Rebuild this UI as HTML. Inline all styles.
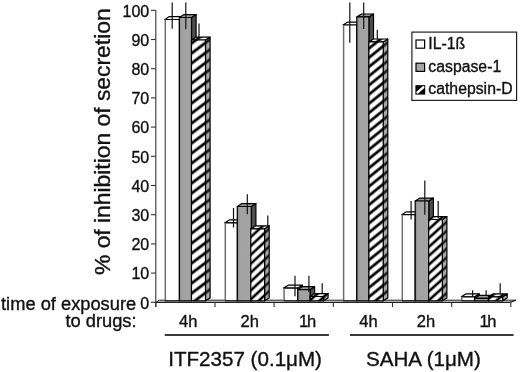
<!DOCTYPE html>
<html><head><meta charset="utf-8"><title>chart</title><style>
html,body{margin:0;padding:0;background:#fff;width:520px;height:372px;overflow:hidden}
svg{display:block}
text{font-family:"Liberation Sans",Arial,sans-serif;fill:#111;stroke:#111;stroke-width:0.35px}
</style></head><body>
<svg width="520" height="372" viewBox="0 0 520 372">
<defs>
<pattern id="hf0" patternUnits="userSpaceOnUse" width="40" height="7.986" patternTransform="translate(191.20,93.60) rotate(-37.0)"><rect width="40" height="7.986" fill="#fff"/><rect y="0" width="40" height="1.398" fill="#000"/><rect y="6.589" width="40" height="1.398" fill="#000"/></pattern>
<pattern id="hs0" patternUnits="userSpaceOnUse" width="40" height="7.986" patternTransform="translate(191.20,93.60) rotate(-37.0)"><rect width="40" height="7.986" fill="#a8a8a8"/><rect y="0" width="40" height="1.398" fill="#1a1a1a"/><rect y="6.589" width="40" height="1.398" fill="#1a1a1a"/></pattern>
<pattern id="ht0" patternUnits="userSpaceOnUse" width="40" height="7.986" patternTransform="translate(191.20,93.60) rotate(-37.0)"><rect width="40" height="7.986" fill="#f4f4f4"/><rect y="0" width="40" height="1.398" fill="#000"/><rect y="6.589" width="40" height="1.398" fill="#000"/></pattern>
<pattern id="hf1" patternUnits="userSpaceOnUse" width="40" height="6.509" patternTransform="translate(250.90,254.70) rotate(-43.0)"><rect width="40" height="6.509" fill="#fff"/><rect y="0" width="40" height="1.280" fill="#000"/><rect y="5.229" width="40" height="1.280" fill="#000"/></pattern>
<pattern id="hs1" patternUnits="userSpaceOnUse" width="40" height="6.509" patternTransform="translate(250.90,254.70) rotate(-43.0)"><rect width="40" height="6.509" fill="#a8a8a8"/><rect y="0" width="40" height="1.280" fill="#1a1a1a"/><rect y="5.229" width="40" height="1.280" fill="#1a1a1a"/></pattern>
<pattern id="ht1" patternUnits="userSpaceOnUse" width="40" height="6.509" patternTransform="translate(250.90,254.70) rotate(-43.0)"><rect width="40" height="6.509" fill="#f4f4f4"/><rect y="0" width="40" height="1.280" fill="#000"/><rect y="5.229" width="40" height="1.280" fill="#000"/></pattern>
<pattern id="hf2" patternUnits="userSpaceOnUse" width="40" height="6.614" patternTransform="translate(310.50,300.00) rotate(-42.0)"><rect width="40" height="6.614" fill="#fff"/><rect y="0" width="40" height="1.301" fill="#000"/><rect y="5.313" width="40" height="1.301" fill="#000"/></pattern>
<pattern id="hs2" patternUnits="userSpaceOnUse" width="40" height="6.614" patternTransform="translate(310.50,300.00) rotate(-42.0)"><rect width="40" height="6.614" fill="#a8a8a8"/><rect y="0" width="40" height="1.301" fill="#1a1a1a"/><rect y="5.313" width="40" height="1.301" fill="#1a1a1a"/></pattern>
<pattern id="ht2" patternUnits="userSpaceOnUse" width="40" height="6.614" patternTransform="translate(310.50,300.00) rotate(-42.0)"><rect width="40" height="6.614" fill="#f4f4f4"/><rect y="0" width="40" height="1.301" fill="#000"/><rect y="5.313" width="40" height="1.301" fill="#000"/></pattern>
<pattern id="hf3" patternUnits="userSpaceOnUse" width="40" height="7.150" patternTransform="translate(368.90,94.50) rotate(-39.0)"><rect width="40" height="7.150" fill="#fff"/><rect y="0" width="40" height="1.360" fill="#000"/><rect y="5.790" width="40" height="1.360" fill="#000"/></pattern>
<pattern id="hs3" patternUnits="userSpaceOnUse" width="40" height="7.150" patternTransform="translate(368.90,94.50) rotate(-39.0)"><rect width="40" height="7.150" fill="#a8a8a8"/><rect y="0" width="40" height="1.360" fill="#1a1a1a"/><rect y="5.790" width="40" height="1.360" fill="#1a1a1a"/></pattern>
<pattern id="ht3" patternUnits="userSpaceOnUse" width="40" height="7.150" patternTransform="translate(368.90,94.50) rotate(-39.0)"><rect width="40" height="7.150" fill="#f4f4f4"/><rect y="0" width="40" height="1.360" fill="#000"/><rect y="5.790" width="40" height="1.360" fill="#000"/></pattern>
<pattern id="hf4" patternUnits="userSpaceOnUse" width="40" height="6.614" patternTransform="translate(428.60,238.20) rotate(-42.0)"><rect width="40" height="6.614" fill="#fff"/><rect y="0" width="40" height="1.301" fill="#000"/><rect y="5.313" width="40" height="1.301" fill="#000"/></pattern>
<pattern id="hs4" patternUnits="userSpaceOnUse" width="40" height="6.614" patternTransform="translate(428.60,238.20) rotate(-42.0)"><rect width="40" height="6.614" fill="#a8a8a8"/><rect y="0" width="40" height="1.301" fill="#1a1a1a"/><rect y="5.313" width="40" height="1.301" fill="#1a1a1a"/></pattern>
<pattern id="ht4" patternUnits="userSpaceOnUse" width="40" height="6.614" patternTransform="translate(428.60,238.20) rotate(-42.0)"><rect width="40" height="6.614" fill="#f4f4f4"/><rect y="0" width="40" height="1.301" fill="#000"/><rect y="5.313" width="40" height="1.301" fill="#000"/></pattern>
<pattern id="hf5" patternUnits="userSpaceOnUse" width="40" height="6.614" patternTransform="translate(488.40,299.00) rotate(-42.0)"><rect width="40" height="6.614" fill="#fff"/><rect y="0" width="40" height="1.301" fill="#000"/><rect y="5.313" width="40" height="1.301" fill="#000"/></pattern>
<pattern id="hs5" patternUnits="userSpaceOnUse" width="40" height="6.614" patternTransform="translate(488.40,299.00) rotate(-42.0)"><rect width="40" height="6.614" fill="#a8a8a8"/><rect y="0" width="40" height="1.301" fill="#1a1a1a"/><rect y="5.313" width="40" height="1.301" fill="#1a1a1a"/></pattern>
<pattern id="ht5" patternUnits="userSpaceOnUse" width="40" height="6.614" patternTransform="translate(488.40,299.00) rotate(-42.0)"><rect width="40" height="6.614" fill="#f4f4f4"/><rect y="0" width="40" height="1.301" fill="#000"/><rect y="5.313" width="40" height="1.301" fill="#000"/></pattern>
<linearGradient id="gg" x1="0" y1="0" x2="1" y2="0"><stop offset="0" stop-color="#8e8e8e"/><stop offset="0.22" stop-color="#a2a2a2"/><stop offset="1" stop-color="#a4a4a4"/></linearGradient>
</defs>
<text transform="translate(109.5,141.7) rotate(-90)" text-anchor="middle" font-size="22.85">% of inhibition of secretion</text>
<text x="149.2" y="308.5" text-anchor="end" font-size="16">0</text>
<text x="149.2" y="279.3" text-anchor="end" font-size="16">10</text>
<text x="149.2" y="250.1" text-anchor="end" font-size="16">20</text>
<text x="149.2" y="220.9" text-anchor="end" font-size="16">30</text>
<text x="149.2" y="191.7" text-anchor="end" font-size="16">40</text>
<text x="149.2" y="162.5" text-anchor="end" font-size="16">50</text>
<text x="149.2" y="133.3" text-anchor="end" font-size="16">60</text>
<text x="149.2" y="104.1" text-anchor="end" font-size="16">70</text>
<text x="149.2" y="74.9" text-anchor="end" font-size="16">80</text>
<text x="149.2" y="45.7" text-anchor="end" font-size="16">90</text>
<text x="149.2" y="16.5" text-anchor="end" font-size="16">100</text>
<g stroke="#333" stroke-width="1.1" fill="none">
<line x1="155.8" y1="10.3" x2="155.8" y2="307.0"/>
<line x1="151" y1="302.3" x2="155.8" y2="302.3"/>
<line x1="151" y1="273.1" x2="155.8" y2="273.1"/>
<line x1="151" y1="243.9" x2="155.8" y2="243.9"/>
<line x1="151" y1="214.7" x2="155.8" y2="214.7"/>
<line x1="151" y1="185.5" x2="155.8" y2="185.5"/>
<line x1="151" y1="156.3" x2="155.8" y2="156.3"/>
<line x1="151" y1="127.1" x2="155.8" y2="127.1"/>
<line x1="151" y1="97.9" x2="155.8" y2="97.9"/>
<line x1="151" y1="68.7" x2="155.8" y2="68.7"/>
<line x1="151" y1="39.5" x2="155.8" y2="39.5"/>
<line x1="151" y1="10.3" x2="155.8" y2="10.3"/>
</g>
<polygon points="155.8,302.3 510.2,302.3 515.9,300.2 159.4,300.2" fill="#dcdcdc" stroke="none"/>
<g stroke="#222" fill="none">
<line x1="159.4" y1="300.2" x2="515.9" y2="300.2" stroke-width="1.0" stroke="#222"/>
<polyline points="155.8,302.3 510.2,302.3 515.9,300.2" stroke-width="1.3"/>
<line x1="155.8" y1="302.3" x2="159.4" y2="300.2" stroke-width="1"/>
<line x1="155.8" y1="302.3" x2="155.8" y2="307.0" stroke-width="1.1" stroke="#333"/>
<line x1="215.0" y1="302.3" x2="215.0" y2="307.0" stroke-width="1.1" stroke="#333"/>
<line x1="274.1" y1="302.3" x2="274.1" y2="307.0" stroke-width="1.1" stroke="#333"/>
<line x1="333.3" y1="302.3" x2="333.3" y2="307.0" stroke-width="1.1" stroke="#333"/>
<line x1="392.5" y1="302.3" x2="392.5" y2="307.0" stroke-width="1.1" stroke="#333"/>
<line x1="451.7" y1="302.3" x2="451.7" y2="307.0" stroke-width="1.1" stroke="#333"/>
<line x1="510.8" y1="302.3" x2="510.8" y2="307.0" stroke-width="1.1" stroke="#333"/>
</g>
<g stroke="#000" stroke-width="1.2" stroke-linejoin="round"><polygon points="179.4,19.5 184.0,16.6 184.0,297.9 179.4,300.8" fill="#d8d8d8"/><polygon points="164.8,19.5 179.4,19.5 184.0,16.6 169.4,16.6" fill="#fff"/><rect x="164.8" y="19.5" width="14.6" height="281.3" fill="#fff" stroke="none"/><polyline points="164.8,19.5 179.4,19.5 179.4,300.8" fill="none"/><line x1="165.3" y1="19.5" x2="165.3" y2="300.8" stroke="#6e6e6e" stroke-width="1.5"/><line x1="164.8" y1="300.8" x2="179.4" y2="300.8"/></g>
<g stroke="#000" stroke-width="1.2" stroke-linejoin="round"><polygon points="191.5,17.5 196.1,14.6 196.1,297.9 191.5,300.8" fill="#4e4e4e"/><polygon points="179.4,17.5 191.5,17.5 196.1,14.6 184.0,14.6" fill="#9a9a9a"/><rect x="179.4" y="17.5" width="12.1" height="283.3" fill="url(#gg)"/></g>
<g stroke="#000" stroke-width="1.2" stroke-linejoin="round"><polygon points="205.5,40.0 210.1,37.1 210.1,297.9 205.5,300.8" fill="url(#hs0)"/><polygon points="191.5,40.0 205.5,40.0 210.1,37.1 196.1,37.1" fill="url(#ht0)"/><rect x="191.5" y="40.0" width="14.0" height="260.8" fill="url(#hf0)"/></g>
<g stroke="#000" stroke-width="1.2" stroke-linejoin="round"><polygon points="237.4,222.8 242.0,219.9 242.0,297.9 237.4,300.8" fill="#d8d8d8"/><polygon points="224.8,222.8 237.4,222.8 242.0,219.9 229.4,219.9" fill="#fff"/><rect x="224.8" y="222.8" width="12.6" height="78.0" fill="#fff" stroke="none"/><polyline points="224.8,222.8 237.4,222.8 237.4,300.8" fill="none"/><line x1="225.3" y1="222.8" x2="225.3" y2="300.8" stroke="#6e6e6e" stroke-width="1.5"/><line x1="224.8" y1="300.8" x2="237.4" y2="300.8"/></g>
<g stroke="#000" stroke-width="1.2" stroke-linejoin="round"><polygon points="251.3,206.5 255.9,203.6 255.9,297.9 251.3,300.8" fill="#4e4e4e"/><polygon points="237.3,206.5 251.3,206.5 255.9,203.6 241.9,203.6" fill="#9a9a9a"/><rect x="237.3" y="206.5" width="14.0" height="94.3" fill="url(#gg)"/></g>
<g stroke="#000" stroke-width="1.2" stroke-linejoin="round"><polygon points="264.6,228.8 269.2,225.9 269.2,297.9 264.6,300.8" fill="url(#hs1)"/><polygon points="250.8,228.8 264.6,228.8 269.2,225.9 255.4,225.9" fill="url(#ht1)"/><rect x="250.8" y="228.8" width="13.8" height="72.0" fill="url(#hf1)"/></g>
<g stroke="#000" stroke-width="1.2" stroke-linejoin="round"><polygon points="297.8,288.1 302.4,285.2 302.4,297.9 297.8,300.8" fill="#d8d8d8"/><polygon points="283.6,288.1 297.8,288.1 302.4,285.2 288.2,285.2" fill="#fff"/><rect x="283.6" y="288.1" width="14.2" height="12.7" fill="#fff" stroke="none"/><polyline points="283.6,288.1 297.8,288.1 297.8,300.8" fill="none"/><line x1="284.1" y1="288.1" x2="284.1" y2="300.8" stroke="#6e6e6e" stroke-width="1.5"/><line x1="283.6" y1="300.8" x2="297.8" y2="300.8"/></g>
<g stroke="#000" stroke-width="1.2" stroke-linejoin="round"><polygon points="310.0,289.6 314.6,286.7 314.6,297.9 310.0,300.8" fill="#4e4e4e"/><polygon points="297.8,289.6 310.0,289.6 314.6,286.7 302.4,286.7" fill="#9a9a9a"/><rect x="297.8" y="289.6" width="12.2" height="11.2" fill="url(#gg)"/></g>
<g stroke="#000" stroke-width="1.2" stroke-linejoin="round"><polygon points="323.5,296.5 328.1,293.6 328.1,297.9 323.5,300.8" fill="url(#hs2)"/><polygon points="310.3,296.5 323.5,296.5 328.1,293.6 314.9,293.6" fill="url(#ht2)"/><rect x="310.3" y="296.5" width="13.2" height="4.3" fill="url(#hf2)"/></g>
<g stroke="#000" stroke-width="1.2" stroke-linejoin="round"><polygon points="356.8,25.0 361.4,22.1 361.4,297.9 356.8,300.8" fill="#d8d8d8"/><polygon points="343.1,25.0 356.8,25.0 361.4,22.1 347.7,22.1" fill="#fff"/><rect x="343.1" y="25.0" width="13.7" height="275.8" fill="#fff" stroke="none"/><polyline points="343.1,25.0 356.8,25.0 356.8,300.8" fill="none"/><line x1="343.6" y1="25.0" x2="343.6" y2="300.8" stroke="#6e6e6e" stroke-width="1.5"/><line x1="343.1" y1="300.8" x2="356.8" y2="300.8"/></g>
<g stroke="#000" stroke-width="1.2" stroke-linejoin="round"><polygon points="368.9,16.9 373.5,14.0 373.5,297.9 368.9,300.8" fill="#4e4e4e"/><polygon points="356.8,16.9 368.9,16.9 373.5,14.0 361.4,14.0" fill="#9a9a9a"/><rect x="356.8" y="16.9" width="12.1" height="283.9" fill="url(#gg)"/></g>
<g stroke="#000" stroke-width="1.2" stroke-linejoin="round"><polygon points="383.2,41.9 387.8,39.0 387.8,297.9 383.2,300.8" fill="url(#hs3)"/><polygon points="368.9,41.9 383.2,41.9 387.8,39.0 373.5,39.0" fill="url(#ht3)"/><rect x="368.9" y="41.9" width="14.3" height="258.9" fill="url(#hf3)"/></g>
<g stroke="#000" stroke-width="1.2" stroke-linejoin="round"><polygon points="415.2,214.7 419.8,211.8 419.8,297.9 415.2,300.8" fill="#d8d8d8"/><polygon points="401.8,214.7 415.2,214.7 419.8,211.8 406.4,211.8" fill="#fff"/><rect x="401.8" y="214.7" width="13.4" height="86.1" fill="#fff" stroke="none"/><polyline points="401.8,214.7 415.2,214.7 415.2,300.8" fill="none"/><line x1="402.3" y1="214.7" x2="402.3" y2="300.8" stroke="#6e6e6e" stroke-width="1.5"/><line x1="401.8" y1="300.8" x2="415.2" y2="300.8"/></g>
<g stroke="#000" stroke-width="1.2" stroke-linejoin="round"><polygon points="428.8,201.0 433.4,198.1 433.4,297.9 428.8,300.8" fill="#4e4e4e"/><polygon points="415.2,201.0 428.8,201.0 433.4,198.1 419.8,198.1" fill="#9a9a9a"/><rect x="415.2" y="201.0" width="13.6" height="99.8" fill="url(#gg)"/></g>
<g stroke="#000" stroke-width="1.2" stroke-linejoin="round"><polygon points="442.3,219.5 446.9,216.6 446.9,297.9 442.3,300.8" fill="url(#hs4)"/><polygon points="428.7,219.5 442.3,219.5 446.9,216.6 433.3,216.6" fill="url(#ht4)"/><rect x="428.7" y="219.5" width="13.6" height="81.3" fill="url(#hf4)"/></g>
<g stroke="#000" stroke-width="1.2" stroke-linejoin="round"><polygon points="474.6,296.8 479.2,293.9 479.2,297.9 474.6,300.8" fill="#d8d8d8"/><polygon points="461.3,296.8 474.6,296.8 479.2,293.9 465.9,293.9" fill="#fff"/><rect x="461.3" y="296.8" width="13.3" height="4.0" fill="#fff" stroke="none"/><polyline points="461.3,296.8 474.6,296.8 474.6,300.8" fill="none"/><line x1="461.8" y1="296.8" x2="461.8" y2="300.8" stroke="#6e6e6e" stroke-width="1.5"/><line x1="461.3" y1="300.8" x2="474.6" y2="300.8"/></g>
<g stroke="#000" stroke-width="1.2" stroke-linejoin="round"><polygon points="488.4,298.3 493.0,295.4 493.0,297.9 488.4,300.8" fill="#4e4e4e"/><polygon points="474.6,298.3 488.4,298.3 493.0,295.4 479.2,295.4" fill="#9a9a9a"/><rect x="474.6" y="298.3" width="13.8" height="2.5" fill="url(#gg)"/></g>
<g stroke="#000" stroke-width="1.2" stroke-linejoin="round"><polygon points="502.6,296.8 507.2,293.9 507.2,297.9 502.6,300.8" fill="url(#hs5)"/><polygon points="488.4,296.8 502.6,296.8 507.2,293.9 493.0,293.9" fill="url(#ht5)"/><rect x="488.4" y="296.8" width="14.2" height="4.0" fill="url(#hf5)"/></g>
<g stroke="#111" stroke-width="1.2">
<line x1="172.2" y1="2.4" x2="172.2" y2="28.8"/>
<line x1="185.8" y1="2.4" x2="185.8" y2="29.2"/>
<line x1="199.0" y1="23.4" x2="199.0" y2="39.6"/>
<line x1="233.5" y1="208.0" x2="233.5" y2="227.6"/>
<line x1="247.3" y1="194.2" x2="247.3" y2="214.3"/>
<line x1="267.8" y1="215.4" x2="267.8" y2="227.0"/>
<line x1="295.0" y1="275.8" x2="295.0" y2="296.2"/>
<line x1="308.9" y1="275.8" x2="308.9" y2="291.9"/>
<line x1="322.2" y1="283.2" x2="322.2" y2="293.5"/>
<line x1="349.8" y1="2.4" x2="349.8" y2="42.7"/>
<line x1="363.7" y1="2.4" x2="363.7" y2="29.0"/>
<line x1="377.3" y1="29.8" x2="377.3" y2="39.5"/>
<line x1="411.1" y1="201.0" x2="411.1" y2="219.5"/>
<line x1="424.8" y1="180.6" x2="424.8" y2="214.7"/>
<line x1="438.2" y1="201.0" x2="438.2" y2="218.0"/>
<line x1="472.6" y1="290.2" x2="472.6" y2="296.0"/>
<line x1="486.1" y1="290.2" x2="486.1" y2="296.0"/>
<line x1="500.2" y1="283.3" x2="500.2" y2="293.6"/>
</g>
<text x="179.0" y="326.6" font-size="16.5">4h</text>
<text x="240.5" y="326.6" font-size="16.5">2h</text>
<text x="299.0" y="326.6" font-size="16.5" letter-spacing="-1.2">1h</text>
<text x="359.3" y="326.6" font-size="16.5">4h</text>
<text x="416.8" y="326.6" font-size="16.5">2h</text>
<text x="479.4" y="326.6" font-size="16.5" letter-spacing="-1.2">1h</text>
<text x="136.2" y="310.4" text-anchor="end" font-size="18.3">time of exposure</text>
<text x="136.6" y="326.5" text-anchor="end" font-size="18.3">to drugs:</text>
<g stroke="#3a3a3a" stroke-width="1.8"><line x1="164.8" y1="335" x2="328.9" y2="335"/><line x1="350" y1="335" x2="513.6" y2="335"/></g>
<text x="168.2" y="365.8" font-size="20.6">ITF2357 (0.1μM)</text>
<text x="366.0" y="365.8" font-size="20.6">SAHA (1μM)</text>
<rect x="411.9" y="32.1" width="104.7" height="68.3" fill="#fff" stroke="#222" stroke-width="1.2"/>
<rect x="416" y="40" width="8.6" height="8.2" fill="#fff" stroke="#000" stroke-width="1.2"/>
<rect x="416" y="63.2" width="8.6" height="8.2" fill="#a5a5a5" stroke="#000" stroke-width="1.2"/>
<rect x="416" y="85.8" width="8.6" height="8.2" fill="#000" stroke="#000" stroke-width="1.2"/>
<line x1="417.6" y1="92.4" x2="423.2" y2="87.4" stroke="#fff" stroke-width="2.6" stroke-linecap="round"/>
<text x="428.3" y="48.6" font-size="15.8">IL-1ß</text>
<text x="428.3" y="72.0" font-size="15.8">caspase-1</text>
<text x="428.3" y="94.0" font-size="15.8">cathepsin-D</text>
</svg>
</body></html>
